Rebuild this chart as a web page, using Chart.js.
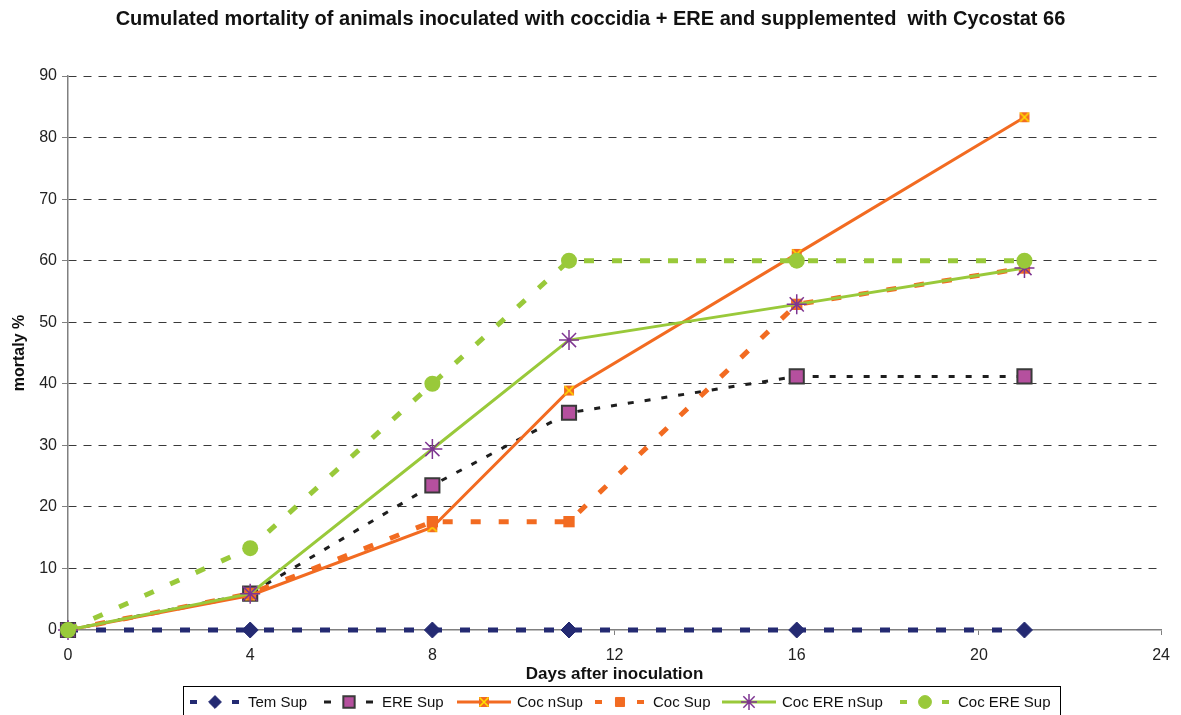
<!DOCTYPE html>
<html>
<head>
<meta charset="utf-8">
<script src="https://cdn.jsdelivr.net/npm/chart.js@4/dist/chart.umd.min.js"></script>
<style>
  html, body { margin: 0; padding: 0; background: #fff; }
  #wrap { width: 1181px; height: 715px; }
</style>
</head>
<body>
<div id="wrap"><canvas id="mortality-chart" width="1181" height="715"></canvas></div>
<script>
const days = [0, 4, 8, 11, 16, 21];
const seriesNames = ['Tem Sup', 'ERE Sup', 'Coc nSup', 'Coc Sup', 'Coc ERE nSup', 'Coc ERE Sup'];
const temSup = [0, 0, 0, 0, 0, 0];
const ereSup = [0, 5.9, 23.5, 35.3, 41.2, 41.2];
const cocNSup = [0, 5.6, 16.7, 38.9, 61.1, 83.3];
const cocSup = [0, 5.9, 17.6, 17.6, 52.9, 58.8];
const cocEreNSup = [0, 5.9, 29.4, 47.1, 52.9, 58.8];
const cocEreSup = [0, 13.3, 40, 60, 60, 60];
const xTicks = [0, 4, 8, 12, 16, 20, 24];
const yTicks = [0, 10, 20, 30, 40, 50, 60, 70, 80, 90];

const FONT = '"Liberation Sans", Arial, sans-serif';
const ORANGE = '#f26b21';
const GREEN = '#99c93a';
const NAVY = '#242a72';
const PURPLE = '#7e3592';

// orange square with a yellow cross
function crossMarker() {
  const c = document.createElement('canvas');
  c.width = 12; c.height = 12;
  const g = c.getContext('2d');
  g.fillStyle = ORANGE;
  g.fillRect(1, 1, 10, 10);
  g.strokeStyle = '#ffe000';
  g.lineWidth = 1.6;
  g.beginPath();
  g.moveTo(1.5, 1.5); g.lineTo(10.5, 10.5);
  g.moveTo(10.5, 1.5); g.lineTo(1.5, 10.5);
  g.stroke();
  return c;
}

const toPoints = (vals) => vals.map((v, i) => ({ x: days[i], y: v }));

const datasets = [
  { label: seriesNames[0], data: toPoints(temSup), borderColor: NAVY, backgroundColor: NAVY,
    borderWidth: 5, borderDash: [10, 18], pointStyle: 'rectRot', pointRadius: 8,
    pointBorderWidth: 1 },
  { label: seriesNames[1], data: toPoints(ereSup), borderColor: '#1e1e1e', backgroundColor: '#b5509e',
    borderWidth: 3, borderDash: [6, 11], pointStyle: 'rect', pointRadius: 10,
    pointBorderColor: '#3a3a3a', pointBorderWidth: 2 },
  { label: seriesNames[2], data: toPoints(cocNSup), borderColor: ORANGE, backgroundColor: ORANGE,
    borderWidth: 3, pointStyle: crossMarker(), pointRadius: 6 },
  { label: seriesNames[3], data: toPoints(cocSup), borderColor: ORANGE, backgroundColor: ORANGE,
    borderWidth: 5, borderDash: [10, 18], pointStyle: 'rect', pointRadius: 8,
    pointBorderWidth: 0 },
  { label: seriesNames[4], data: toPoints(cocEreNSup), borderColor: GREEN, backgroundColor: PURPLE,
    borderWidth: 3, pointStyle: 'star', pointRadius: 10,
    pointBorderColor: PURPLE, pointBorderWidth: 1.5 },
  { label: seriesNames[5], data: toPoints(cocEreSup), borderColor: GREEN, backgroundColor: GREEN,
    borderWidth: 5, borderDash: [10, 18], pointStyle: 'circle', pointRadius: 8,
    pointBorderWidth: 0 },
];
datasets.forEach((d, i) => {
  d.fill = false;
  d.tension = 0;
  d.clip = false;
  d.order = datasets.length - i;   // later series on top
});

// legend box drawn under the axis title, like the original
const legendX = [188, 322, 457, 593, 722, 898];
const boxLegend = {
  id: 'boxLegend',
  afterDraw(chart) {
    const ctx = chart.ctx;
    ctx.save();
    ctx.strokeStyle = '#000';
    ctx.lineWidth = 1;
    ctx.strokeRect(183.5, 686.5, 877, 40);
    const y = 702;
    chart.data.datasets.forEach((ds, i) => {
      const x0 = legendX[i];
      const x1 = x0 + 54;
      ctx.save();
      ctx.strokeStyle = ds.borderColor;
      ctx.lineWidth = Math.min(ds.borderWidth, 4);
      ctx.setLineDash(ds.borderDash ? [7, 14] : []);
      ctx.lineDashOffset = ds.borderDash ? -2 : 0;
      ctx.beginPath();
      ctx.moveTo(x0, y);
      ctx.lineTo(x1, y);
      ctx.stroke();
      ctx.restore();
      ctx.save();
      ctx.fillStyle = ds.backgroundColor;
      ctx.strokeStyle = ds.pointBorderColor || ds.borderColor;
      ctx.lineWidth = ds.pointBorderWidth !== undefined ? ds.pointBorderWidth : 1;
      Chart.helpers.drawPoint(ctx, {
        pointStyle: ds.pointStyle,
        radius: ds.pointRadius * 0.8,
        borderWidth: ctx.lineWidth,
        rotation: 0
      }, (x0 + x1) / 2, y);
      ctx.restore();
      ctx.fillStyle = '#111';
      ctx.font = '15px ' + FONT;
      ctx.textBaseline = 'middle';
      ctx.fillText(ds.label, x1 + 6, y + 1);
    });
    ctx.restore();
  }
};

const ctxMortality = document.getElementById('mortality-chart');

new Chart(ctxMortality, {
  type: 'line',
  data: { datasets: datasets },
  options: {
    responsive: false,
    animation: false,
    events: [],
    layout: { padding: { left: 0, right: 0, top: 0, bottom: 30 } },
    plugins: {
      legend: { display: false },
      tooltip: { enabled: false },
      title: {
        display: true,
        text: 'Cumulated mortality of animals inoculated with coccidia + ERE and supplemented  with Cycostat 66',
        color: '#111',
        font: { family: FONT, size: 20, weight: 'bold', lineHeight: 1.2 },
        padding: { top: 7, bottom: 45 }
      }
    },
    scales: {
      x: {
        type: 'linear',
        min: 0,
        max: 24,
        afterFit(scale) { scale.height = 55; },
        afterBuildTicks(scale) { scale.ticks = xTicks.map((v) => ({ value: v })); },
        ticks: {
          color: '#222',
          padding: 11,
          font: { family: FONT, size: 16 }
        },
        grid: { display: true, drawOnChartArea: false, tickLength: 5, color: '#808080' },
        border: { color: '#808080', width: 1.5 },
        title: {
          display: true,
          text: 'Days after inoculation',
          color: '#111',
          font: { family: FONT, size: 17, weight: 'bold' },
          padding: { top: 0, bottom: 0 }
        }
      },
      y: {
        type: 'linear',
        min: 0,
        max: 90,
        afterFit(scale) { scale.width = 68; },
        afterBuildTicks(scale) { scale.ticks = yTicks.map((v) => ({ value: v })); },
        ticks: {
          color: '#222',
          padding: 5,
          font: { family: FONT, size: 16 }
        },
        grid: {
          color: (c) => (c.tick && c.tick.value === 0 ? 'rgba(0,0,0,0)' : '#3a3a3a'),
          lineWidth: 1,
          tickLength: 6,
          tickColor: '#808080',
          tickBorderDash: []
        },
        border: { color: '#808080', width: 1.5, dash: [8, 7] },
        title: {
          display: true,
          text: 'mortaly %',
          color: '#111',
          font: { family: FONT, size: 16, weight: 'bold' },
          padding: { top: 10, bottom: 0 }
        }
      },
      // empty right-hand strip so the plot ends where the original does
      spacer: {
        type: 'linear',
        position: 'right',
        display: true,
        afterFit(scale) { scale.width = 18; },
        ticks: { display: false },
        grid: { display: false, drawTicks: false },
        border: { display: false }
      }
    }
  },
  plugins: [boxLegend]
});
</script>
</body>
</html>
